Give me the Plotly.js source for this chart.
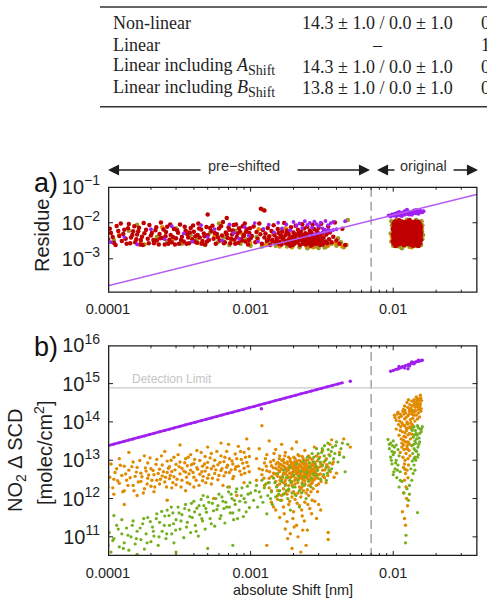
<!DOCTYPE html>
<html>
<head>
<meta charset="utf-8">
<script src="https://cdn.plot.ly/plotly-3.0.1.min.js"></script>
<style>
  html, body { margin: 0; padding: 0; background: #fff; }
  #chart { width: 487px; height: 603px; }
</style>
</head>
<body>
<div id="chart"></div>
<script>
// ---------------------------------------------------------------------------
// Panel a) fit residue versus absolute shift  [shift (nm), residue]
// ---------------------------------------------------------------------------
const resRedPre = [
  [1.0e-4,3.5e-3],[1.05e-4,5.2e-3],[1.1e-4,2.8e-3],[1.15e-4,8.1e-3],[1.2e-4,4.3e-3],[1.25e-4,3.1e-3],
  [1.3e-4,6.4e-3],[1.35e-4,2.6e-3],[1.4e-4,9.2e-3],[1.45e-4,3.9e-3],[1.5e-4,5.8e-3],[1.55e-4,2.9e-3],
  [1.6e-4,4.7e-3],[1.65e-4,7.3e-3],[1.7e-4,3.3e-3],[1.75e-4,2.4e-3],[1.8e-4,5.1e-3],[1.9e-4,3.6e-3],
  [1.95e-4,8.6e-3],[2.0e-4,4.4e-3],[2.1e-4,2.7e-3],[2.15e-4,6.2e-3],[2.2e-4,3.2e-3],[2.3e-4,4.9e-3],
  [2.35e-4,1.01e-2],[2.4e-4,3.8e-3],[2.5e-4,2.5e-3],[2.55e-4,5.5e-3],[2.6e-4,7.8e-3],[2.7e-4,3.4e-3],
  [2.75e-4,4.6e-3],[2.8e-4,2.9e-3],[2.9e-4,6.7e-3],[3.0e-4,3.7e-3],[3.1e-4,5.3e-3],[3.15e-4,2.6e-3],
  [3.2e-4,8.9e-3],[3.3e-4,4.1e-3],[3.4e-4,3.0e-3],[3.5e-4,6.0e-3],[3.6e-4,4.8e-3],[3.7e-4,2.7e-3],
  [3.8e-4,7.1e-3],[3.9e-4,3.5e-3],[4.0e-4,5.6e-3],[4.1e-4,4.2e-3],[4.2e-4,2.8e-3],[4.3e-4,9.5e-3],
  [4.4e-4,3.9e-3],[4.5e-4,6.5e-3],[4.6e-4,3.1e-3],[4.7e-4,5.0e-3],[4.8e-4,2.5e-3],[4.9e-4,7.6e-3],
  [5.0e-4,4.5e-3],[5.1e-4,3.3e-3],[5.3e-4,5.9e-3],[5.4e-4,8.3e-3],[5.5e-4,3.6e-3],[5.7e-4,2.6e-3],
  [5.8e-4,4.9e-3],[6.0e-4,6.9e-3],[6.1e-4,3.2e-3],[6.3e-4,4.4e-3],[6.4e-4,1.05e-2],[6.6e-4,2.9e-3],
  [6.7e-4,5.4e-3],[6.9e-4,3.8e-3],[7.0e-4,7.4e-3],[7.2e-4,2.7e-3],[7.4e-4,4.7e-3],[7.5e-4,6.1e-3],
  [7.7e-4,3.4e-3],[7.9e-4,9.0e-3],[8.0e-4,4.0e-3],[8.2e-4,2.8e-3],[8.4e-4,5.7e-3],[8.6e-4,3.5e-3],
  [8.8e-4,8.0e-3],[9.0e-4,4.6e-3],[9.2e-4,3.0e-3],[9.4e-4,6.6e-3],[9.6e-4,2.5e-3],[9.8e-4,5.2e-3],
  [1.0e-3,3.7e-3],[5.0e-4,1.7e-2],[6.8e-4,1.35e-2],[1.18e-3,2.45e-2],[1.25e-3,2.2e-2],
  [1.03e-4,6.8e-3],[1.08e-4,4.0e-3],[1.13e-4,2.4e-3],[1.18e-4,5.9e-3],[1.23e-4,9.6e-3],[1.28e-4,4.9e-3],
  [1.33e-4,3.6e-3],[1.38e-4,7.0e-3],[1.43e-4,2.7e-3],[1.48e-4,4.6e-3],[1.53e-4,8.0e-3],[1.58e-4,3.5e-3],
  [1.63e-4,5.8e-3],[1.68e-4,2.5e-3],[1.73e-4,4.1e-3],[1.78e-4,9.8e-3],[1.85e-4,6.4e-3],[1.93e-4,2.7e-3],
  [2.03e-4,5.2e-3],[2.08e-4,3.3e-3],[2.18e-4,7.5e-3],[2.27e-4,2.5e-3],[2.33e-4,3.7e-3],[2.45e-4,6.5e-3],
  [2.53e-4,4.2e-3],[2.65e-4,2.6e-3],[2.73e-4,9.0e-3],[2.85e-4,4.0e-3],[2.95e-4,2.5e-3],[3.05e-4,6.2e-3],
  [3.25e-4,3.3e-3],[3.45e-4,7.8e-3],[3.55e-4,2.6e-3],[3.65e-4,3.9e-3],[3.75e-4,5.4e-3],[3.95e-4,8.4e-3],
  [4.05e-4,3.0e-3],[4.25e-4,4.6e-3],[4.35e-4,6.9e-3],[4.55e-4,2.6e-3],[4.75e-4,4.2e-3],[4.95e-4,3.0e-3],
  [5.2e-4,7.2e-3],[5.6e-4,5.2e-3],[5.9e-4,3.9e-3],[6.2e-4,8.0e-3],[6.5e-4,2.7e-3],[6.8e-4,4.8e-3],
  [7.1e-4,6.4e-3],[7.3e-4,3.6e-3],[7.6e-4,8.6e-3],[7.8e-4,2.6e-3],[8.1e-4,5.0e-3],[8.3e-4,7.0e-3],
  [8.7e-4,3.2e-3],[8.9e-4,4.3e-3],[9.1e-4,9.6e-3],[9.3e-4,5.6e-3],[9.7e-4,3.3e-3],[9.9e-4,7.0e-3],
  [1.02e-3,4.3e-3],[1.05e-3,7.9e-3],[1.08e-3,2.9e-3],[1.1e-3,5.5e-3],[1.12e-3,3.6e-3],[1.15e-3,9.6e-3],
  [1.17e-3,4.8e-3],[1.2e-3,2.6e-3],[1.22e-3,6.3e-3],[1.25e-3,3.9e-3],[1.27e-3,5.0e-3],[1.3e-3,3.1e-3],
  [1.32e-3,7.2e-3],[1.35e-3,4.2e-3],[1.37e-3,2.4e-3],[1.4e-3,5.9e-3],[1.42e-3,3.4e-3],[1.45e-3,8.5e-3],
  [1.47e-3,4.6e-3],[1.5e-3,2.8e-3],[1.52e-3,3.8e-3],[1.55e-3,6.7e-3],[1.57e-3,5.2e-3],[1.6e-3,3.0e-3],
  [1.62e-3,4.0e-3],[1.65e-3,2.5e-3],[1.67e-3,5.7e-3],[1.7e-3,3.5e-3],[1.72e-3,9.9e-3],[1.75e-3,4.4e-3],
  [1.77e-3,2.7e-3],[1.8e-3,6.0e-3],[1.82e-3,3.2e-3],[1.85e-3,4.9e-3],[1.87e-3,3.7e-3],[1.9e-3,2.3e-3],
  [1.92e-3,7.5e-3],[1.95e-3,4.1e-3],[1.97e-3,3.0e-3],[2.0e-3,5.4e-3],[2.02e-3,2.6e-3],[2.05e-3,3.9e-3],
  [2.07e-3,8.2e-3],[2.1e-3,4.7e-3],[2.12e-3,2.9e-3],[2.15e-3,6.4e-3],[2.17e-3,3.3e-3],[2.2e-3,4.3e-3],
  [2.22e-3,2.4e-3],[2.25e-3,5.6e-3],[2.27e-3,3.6e-3],[2.3e-3,9.1e-3],[2.32e-3,4.5e-3],[2.35e-3,2.8e-3],
  [2.37e-3,6.9e-3],[2.4e-3,3.4e-3],[2.42e-3,5.1e-3],[2.45e-3,2.5e-3],[2.47e-3,4.0e-3],[2.5e-3,7.7e-3],
  [2.52e-3,3.1e-3],[2.55e-3,4.8e-3],[2.57e-3,2.7e-3],[2.6e-3,6.1e-3],[2.62e-3,3.8e-3],[2.65e-3,2.3e-3],
  [2.67e-3,5.3e-3],[2.7e-3,3.5e-3],[2.72e-3,8.8e-3],[2.75e-3,4.2e-3],[2.77e-3,2.9e-3],[2.8e-3,6.6e-3],
  [2.83e-3,3.2e-3],[2.86e-3,4.6e-3],[2.9e-3,2.6e-3],[2.93e-3,5.8e-3],[2.96e-3,3.7e-3],[3.0e-3,7.3e-3],
  [3.03e-3,2.8e-3],[3.06e-3,4.4e-3],[3.1e-3,3.3e-3],[3.13e-3,9.4e-3],[3.17e-3,5.0e-3],[3.2e-3,2.5e-3],
  [3.25e-3,3.9e-3],[3.3e-3,6.2e-3],[3.35e-3,3.0e-3],[3.4e-3,4.7e-3],[3.45e-3,2.7e-3],[3.5e-3,8.0e-3],
  [3.55e-3,3.5e-3],[3.6e-3,5.4e-3],[3.7e-3,2.9e-3],[3.8e-3,4.1e-3],[3.9e-3,1.02e-2],[4.0e-3,3.2e-3],
  [4.2e-3,2.6e-3],[4.4e-3,6.8e-3],[4.6e-3,2.4e-3],
  [1.53e-3,3.3e-3],[1.63e-3,4.5e-3],[1.73e-3,3.1e-3],[1.83e-3,2.6e-3],[1.93e-3,3.5e-3],[2.03e-3,4.4e-3],
  [2.13e-3,3.0e-3],[2.23e-3,3.8e-3],[2.33e-3,2.6e-3],[2.43e-3,3.6e-3],[2.53e-3,4.3e-3],[2.63e-3,3.0e-3],
  [2.73e-3,2.5e-3],[2.85e-3,3.9e-3],[2.95e-3,3.1e-3],[1.58e-3,2.6e-3],[1.68e-3,3.7e-3],[1.78e-3,5.0e-3],
  [1.88e-3,2.9e-3],[1.98e-3,2.4e-3],[2.08e-3,3.3e-3],[2.18e-3,5.2e-3],[2.28e-3,3.2e-3],[2.38e-3,4.2e-3],
  [2.48e-3,2.9e-3],[2.58e-3,3.4e-3],[2.68e-3,4.5e-3],[2.78e-3,3.6e-3],[2.88e-3,2.8e-3],[2.98e-3,4.9e-3],
  [3.08e-3,2.4e-3],[3.18e-3,3.6e-3],[3.28e-3,2.8e-3],[1.43e-3,3.0e-3],[1.33e-3,3.5e-3]
];
const resOlivePre = [
  [1.1e-4,3.3e-3],[1.4e-4,6.0e-3],[1.8e-4,2.5e-3],[2.2e-4,4.0e-3],[2.6e-4,3.0e-3],[3.0e-4,7.0e-3],
  [3.3e-4,2.6e-3],[3.8e-4,4.5e-3],[4.2e-4,3.4e-3],[4.8e-4,2.4e-3],[5.2e-4,5.3e-3],[5.9e-4,2.9e-3],
  [6.5e-4,3.9e-3],[7.1e-4,2.4e-3],[7.8e-4,6.0e-3],[8.5e-4,2.6e-3],[9.3e-4,3.5e-3],[1.0e-3,2.3e-3],
  [1.1e-3,4.0e-3],[1.2e-3,2.2e-3],[1.35e-3,3.0e-3],[1.5e-3,2.3e-3],[1.65e-3,6.2e-3],[1.8e-3,2.2e-3],
  [2.0e-3,2.5e-3],[2.2e-3,2.1e-3],[2.4e-3,3.1e-3],[2.6e-3,2.2e-3],[2.8e-3,2.4e-3],[3.0e-3,2.0e-3],
  [3.2e-3,3.0e-3],[3.4e-3,2.2e-3],[3.7e-3,2.6e-3],[4.0e-3,2.3e-3],[4.3e-3,2.9e-3],[4.7e-3,2.4e-3],
  [3.3e-3,2.05e-3],[2.5e-3,1.95e-3],[2.9e-3,2.2e-3],[6.0e-4,9.5e-3],[1.6e-4,8.8e-3],[4.1e-3,3.7e-3],
  [4.5e-3,2.1e-3],[4.8e-3,1.2e-2]
];
const resOrangePre = [
  [1.2e-4,4.6e-3],[1.7e-4,3.0e-3],[2.4e-4,7.5e-3],[2.9e-4,3.6e-3],[3.6e-4,5.5e-3],[4.4e-4,2.7e-3],
  [5.6e-4,4.2e-3],[6.2e-4,8.4e-3],[7.3e-4,3.3e-3],[8.7e-4,5.0e-3],[9.9e-4,2.8e-3],[1.14e-3,6.6e-3],
  [1.28e-3,2.5e-3],[1.44e-3,4.8e-3],[1.6e-3,2.2e-3],[1.76e-3,7.0e-3],[1.95e-3,2.1e-3],[2.15e-3,2.7e-3],
  [2.45e-3,2.3e-3],[2.75e-3,2.1e-3],[3.05e-3,2.5e-3],[3.5e-3,2.35e-3],[3.95e-3,2.7e-3],[4.4e-3,2.2e-3],
  [1.22e-3,2.3e-2]
];
const resPurplePre = [
  [1.05e-4,2.9e-3],[1.3e-4,4.0e-3],[1.6e-4,2.5e-3],[2.0e-4,6.6e-3],[2.5e-4,3.5e-3],[2.8e-4,8.0e-3],
  [3.4e-4,5.1e-3],[3.9e-4,3.0e-3],[4.5e-4,8.6e-3],[5.0e-4,4.0e-3],[5.6e-4,6.7e-3],[6.3e-4,3.2e-3],
  [7.1e-4,9.0e-3],[7.6e-4,5.2e-3],[8.3e-4,3.6e-3],[9.1e-4,7.6e-3],[9.7e-4,4.4e-3],[1.07e-3,9.8e-3],
  [1.13e-3,3.0e-3],[1.23e-3,6.8e-3],[1.34e-3,8.8e-3],[1.46e-3,5.4e-3],[1.56e-3,1.0e-2],[1.66e-3,7.0e-3],
  [1.78e-3,9.0e-3],[1.9e-3,6.2e-3],[2.0e-3,1.05e-2],[2.1e-3,8.4e-3],[2.2e-3,9.6e-3],[2.3e-3,7.1e-3],
  [2.4e-3,1.1e-2],[2.5e-3,8.7e-3],[2.6e-3,9.9e-3],[2.7e-3,7.4e-3],[2.8e-3,1.08e-2],[2.9e-3,9.2e-3],
  [3.0e-3,8.0e-3],[3.1e-3,1.0e-2],[3.2e-3,7.0e-3],[3.35e-3,1.12e-2],[3.5e-3,8.6e-3],[3.65e-3,9.8e-3],
  [3.8e-3,1.06e-2],[2.6e-3,4.4e-3],[2.8e-3,4.8e-3],[3.0e-3,5.1e-3],[3.2e-3,5.4e-3],[3.4e-3,5.7e-3],
  [3.6e-3,6.0e-3],[3.8e-3,6.3e-3],[4.0e-3,6.6e-3],[3.3e-3,6.2e-3],[3.5e-3,6.5e-3],[4.6e-3,1.1e-2]
];
const resPurpleOrig = [
  [9.3e-3,1.6e-2],[9.6e-3,1.5e-2],[9.8e-3,1.7e-2],[1.0e-2,1.58e-2],[1.02e-2,1.75e-2],[1.04e-2,1.62e-2],
  [1.06e-2,1.85e-2],[1.08e-2,1.68e-2],[1.1e-2,1.78e-2],[1.12e-2,1.6e-2],[1.14e-2,1.9e-2],[1.16e-2,1.72e-2],
  [1.18e-2,1.83e-2],[1.2e-2,1.68e-2],[1.22e-2,1.95e-2],[1.24e-2,1.78e-2],[1.26e-2,1.88e-2],[1.28e-2,1.72e-2],
  [1.3e-2,2.0e-2],[1.32e-2,1.82e-2],[1.34e-2,1.93e-2],[1.36e-2,1.78e-2],[1.38e-2,2.05e-2],[1.4e-2,1.87e-2],
  [1.42e-2,1.98e-2],[1.44e-2,1.84e-2],[1.46e-2,2.1e-2],[1.48e-2,1.92e-2],[1.5e-2,2.02e-2],[1.52e-2,1.88e-2],
  [1.54e-2,2.15e-2],[1.56e-2,1.98e-2],[1.58e-2,2.06e-2],[1.6e-2,1.95e-2],[1.63e-2,2.1e-2],[1.25e-2,2.3e-2],
  [1.1e-2,2.0e-2],[1.35e-2,1.68e-2],[1.45e-2,2.25e-2],[1.05e-2,1.52e-2],[1.2e-2,2.1e-2],[1.3e-2,1.7e-2],
  [1.4e-2,2.2e-2],[1.15e-2,1.55e-2],[1.5e-2,1.78e-2]
];
const resRedOrig = [
  [1.01e-2,2.7e-3],[1.07e-2,2.5e-3],[1.13e-2,2.65e-3],[1.19e-2,2.45e-3],[1.26e-2,2.6e-3],[1.33e-2,2.5e-3],[1.41e-2,2.7e-3],[1.47e-2,2.55e-3],[1.54e-2,2.75e-3],
  [1.0e-2,3.1e-3],[1.05e-2,2.95e-3],[1.12e-2,3.05e-3],[1.17e-2,2.9e-3],[1.24e-2,3.1e-3],[1.31e-2,2.95e-3],[1.39e-2,3.0e-3],[1.46e-2,3.1e-3],[1.53e-2,2.9e-3],
  [1.02e-2,3.55e-3],[1.08e-2,3.4e-3],[1.14e-2,3.6e-3],[1.2e-2,3.45e-3],[1.27e-2,3.5e-3],[1.34e-2,3.6e-3],[1.42e-2,3.4e-3],[1.49e-2,3.55e-3],[1.56e-2,3.45e-3],
  [1.01e-2,4.0e-3],[1.06e-2,4.1e-3],[1.13e-2,3.95e-3],[1.19e-2,4.05e-3],[1.25e-2,3.9e-3],[1.32e-2,4.1e-3],[1.4e-2,4.0e-3],[1.47e-2,3.9e-3],[1.54e-2,4.1e-3],
  [1.0e-2,4.7e-3],[1.07e-2,4.55e-3],[1.12e-2,4.65e-3],[1.18e-2,4.5e-3],[1.26e-2,4.7e-3],[1.33e-2,4.55e-3],[1.41e-2,4.6e-3],[1.48e-2,4.7e-3],[1.55e-2,4.5e-3],
  [1.02e-2,5.2e-3],[1.08e-2,5.4e-3],[1.14e-2,5.25e-3],[1.21e-2,5.35e-3],[1.27e-2,5.2e-3],[1.34e-2,5.4e-3],[1.42e-2,5.3e-3],[1.49e-2,5.2e-3],[1.56e-2,5.4e-3],
  [1.01e-2,6.2e-3],[1.06e-2,6.0e-3],[1.13e-2,6.15e-3],[1.19e-2,6.05e-3],[1.25e-2,6.2e-3],[1.32e-2,6.0e-3],[1.4e-2,6.1e-3],[1.47e-2,6.25e-3],[1.54e-2,6.0e-3],
  [1.0e-2,6.9e-3],[1.07e-2,7.1e-3],[1.12e-2,6.95e-3],[1.18e-2,7.05e-3],[1.26e-2,6.9e-3],[1.33e-2,7.1e-3],[1.41e-2,7.0e-3],[1.48e-2,6.9e-3],[1.55e-2,7.1e-3],
  [1.02e-2,8.1e-3],[1.08e-2,7.9e-3],[1.14e-2,8.05e-3],[1.2e-2,7.95e-3],[1.27e-2,8.1e-3],[1.34e-2,7.9e-3],[1.42e-2,8.0e-3],[1.49e-2,8.1e-3],[1.55e-2,7.9e-3],
  [1.01e-2,9.3e-3],[1.06e-2,9.1e-3],[1.13e-2,9.25e-3],[1.19e-2,9.15e-3],[1.25e-2,9.3e-3],[1.32e-2,9.1e-3],[1.4e-2,9.2e-3],[1.47e-2,9.3e-3],[1.53e-2,9.1e-3],
  [1.03e-2,1.06e-2],[1.09e-2,1.04e-2],[1.15e-2,1.07e-2],[1.22e-2,1.03e-2],[1.29e-2,1.06e-2],[1.36e-2,1.04e-2],[1.43e-2,1.07e-2],[1.5e-2,1.05e-2],
  [1.1e-2,1.15e-2],[1.3e-2,1.18e-2],[1.04e-2,2.3e-3],[1.38e-2,2.35e-3],[1.5e-2,2.3e-3]
];
const resOliveOrig = [
  [9.7e-3,3.0e-3],[9.6e-3,5.0e-3],[9.8e-3,8.5e-3],[9.7e-3,1.1e-2],[1.0e-2,2.3e-3],[1.1e-2,2.2e-3],
  [1.2e-2,2.3e-3],[1.3e-2,2.15e-3],[1.45e-2,2.25e-3],[1.57e-2,2.4e-3],[1.6e-2,3.5e-3],[1.59e-2,5.8e-3],
  [1.6e-2,8.5e-3],[1.58e-2,1.1e-2],[1.05e-2,1.2e-2],[1.25e-2,1.22e-2],[1.45e-2,1.2e-2],[9.9e-3,6.5e-3],
  [1.62e-2,4.6e-3],[1.15e-2,1.95e-3]
];
const resOrangeOrig = [[9.8e-3,4.0e-3],[1.59e-2,7.0e-3],[1.35e-2,2.1e-3],[1.08e-2,1.18e-2]];
// straight reference line drawn across panel a (end points)
const resLineShift = [1.0e-4, 3.9e-2];
const resLineValue = [1.8e-4, 6.2e-2];

// ---------------------------------------------------------------------------
// Panel b) NO2 delta SCD versus absolute shift  [shift (nm), molec/cm^2]
// ---------------------------------------------------------------------------
const scdPurplePre = [
  [1.0e-4,2.4e13],[1.1e-4,2.64e13],[1.2e-4,2.88e13],[1.3e-4,3.12e13],[1.4e-4,3.36e13],[1.5e-4,3.6e13],
  [1.65e-4,3.96e13],[1.8e-4,4.32e13],[1.95e-4,4.68e13],[2.1e-4,5.04e13],[2.3e-4,5.52e13],[2.5e-4,6.0e13],
  [2.7e-4,6.48e13],[2.9e-4,6.96e13],[3.2e-4,7.68e13],[3.5e-4,8.4e13],[3.8e-4,9.12e13],[4.1e-4,9.84e13],
  [4.5e-4,1.08e14],[4.9e-4,1.18e14],[5.3e-4,1.27e14],[5.8e-4,1.39e14],[6.3e-4,1.51e14],[6.9e-4,1.66e14],
  [7.5e-4,1.8e14],[8.2e-4,1.97e14],[8.9e-4,2.14e14],[9.7e-4,2.33e14],[1.06e-3,2.54e14],[1.15e-3,2.76e14],
  [1.25e-3,3.0e14],[1.36e-3,3.26e14],[1.48e-3,3.55e14],[1.61e-3,3.86e14],[1.75e-3,4.2e14],[1.9e-3,4.56e14],
  [2.07e-3,4.97e14],[2.25e-3,5.4e14],[2.45e-3,5.88e14],[2.67e-3,6.41e14],[2.9e-3,6.96e14],[3.15e-3,7.56e14],
  [3.45e-3,8.28e14],[3.75e-3,9.0e14],[4.1e-3,9.84e14],[4.4e-3,1.06e15]
];
const scdPurpleStray = [[1.19e-3,2.2e14],[5.0e-3,1.15e15]];
const scdPurpleOrig = [
  [9.6e-3,2.1e15],[1.0e-2,2.2e15],[1.04e-2,2.35e15],[1.08e-2,2.4e15],[1.1e-2,2.55e15],[1.13e-2,2.6e15],
  [1.16e-2,2.75e15],[1.19e-2,2.8e15],[1.22e-2,2.95e15],[1.25e-2,3.0e15],[1.28e-2,3.15e15],[1.31e-2,3.2e15],
  [1.34e-2,3.35e15],[1.37e-2,3.4e15],[1.4e-2,3.55e15],[1.43e-2,3.6e15],[1.46e-2,3.75e15],[1.5e-2,3.8e15],
  [1.54e-2,3.95e15],[1.58e-2,4.0e15],[1.6e-2,4.1e15],[1.2e-2,2.55e15],[1.3e-2,2.9e15],[1.4e-2,3.3e15],
  [1.1e-2,2.8e15],[1.27e-2,2.45e15],[1.5e-2,4.1e15],[1.35e-2,3.7e15]
];
const scdOrangePre = [
  [1.0e-4,2.0e12],[1.0e-4,5.0e12],[1.05e-4,8.0e12],[1.1e-4,1.3e12],[1.1e-4,3.2e12],[1.15e-4,6.0e12],
  [1.2e-4,2.5e12],[1.2e-4,1.1e13],[1.25e-4,4.0e12],[1.3e-4,1.6e12],[1.3e-4,7.0e12],[1.35e-4,3.0e12],
  [1.4e-4,5.5e12],[1.4e-4,1.6e13],[1.5e-4,2.2e12],[1.5e-4,9.0e12],[1.55e-4,3.8e12],[1.6e-4,1.2e12],
  [1.6e-4,6.5e12],[1.7e-4,2.8e12],[1.7e-4,4.6e12],[1.8e-4,1.3e13],[1.8e-4,1.8e12],[1.85e-4,5.2e12],
  [1.9e-4,3.4e12],[1.9e-4,8.5e12],[2.0e-4,2.1e12],[2.0e-4,6.0e12],[2.1e-4,4.2e12],[2.1e-4,1.5e12],
  [2.2e-4,1.05e13],[2.2e-4,3.0e12],[2.3e-4,5.8e12],[2.3e-4,2.4e12],[2.4e-4,7.5e12],[2.4e-4,3.9e12],
  [2.5e-4,1.7e13],[2.5e-4,2.7e12],[2.6e-4,4.8e12],[2.6e-4,9.5e12],[2.7e-4,3.3e12],[2.7e-4,6.8e12],
  [2.8e-4,1.9e12],[2.8e-4,5.1e12],[2.9e-4,1.2e13],[2.9e-4,3.7e12],[3.0e-4,7.8e12],[3.0e-4,2.3e12],
  [3.2e-4,4.4e12],[3.2e-4,9.0e12],[3.2e-4,2.5e13],[3.3e-4,6.2e12],[3.3e-4,3.0e12],[3.5e-4,1.1e13],
  [3.5e-4,4.9e12],[3.5e-4,1.6e12],[3.6e-4,7.2e12],[3.6e-4,2.6e12],[3.8e-4,5.5e12],[3.8e-4,1.4e13],
  [4.0e-4,3.6e12],[4.0e-4,8.2e12],[4.0e-4,2.0e12],[4.2e-4,6.4e12],[4.2e-4,1.8e13],[4.4e-4,4.3e12],
  [4.4e-4,9.8e12],[4.6e-4,2.9e12],[4.6e-4,7.0e12],[4.8e-4,1.25e13],[4.8e-4,5.2e12],[5.0e-4,3.4e12],
  [5.0e-4,8.8e12],[5.0e-4,2.2e13],[5.3e-4,6.0e12],[5.3e-4,1.5e13],[5.3e-4,2.4e12],[5.6e-4,4.5e12],
  [5.6e-4,1.0e13],[5.9e-4,7.6e12],[5.9e-4,3.1e12],[6.2e-4,1.3e13],[6.2e-4,5.4e12],[6.2e-4,2.8e13],
  [6.5e-4,3.9e12],[6.5e-4,9.2e12],[6.8e-4,6.6e12],[6.8e-4,1.7e13],[7.1e-4,4.8e12],[7.1e-4,1.1e13],
  [7.1e-4,2.0e12],[7.5e-4,8.0e12],[7.5e-4,3.3e12],[7.8e-4,1.45e13],[7.8e-4,5.8e12],[8.2e-4,2.3e13],
  [8.2e-4,7.0e12],[8.6e-4,4.2e12],[8.6e-4,1.05e13],[9.0e-4,6.2e12],[9.0e-4,1.6e13],[9.0e-4,2.6e12],
  [9.4e-4,8.8e12],[9.4e-4,3.6e13],[9.8e-4,5.0e12],[9.8e-4,1.25e13],
  [1.3e-4,7.0e11],[2.6e-4,9.0e11],[5.5e-4,1.0e12],[8.0e-4,1.2e12],
  [1.03e-4,3.6e12],[1.08e-4,1.9e12],[1.12e-4,4.8e12],[1.17e-4,2.9e12],[1.22e-4,7.4e12],[1.27e-4,1.5e12],
  [1.33e-4,4.4e12],[1.38e-4,2.2e12],[1.43e-4,3.5e12],[1.47e-4,6.8e12],[1.52e-4,1.6e12],[1.58e-4,4.9e12],
  [1.63e-4,2.7e12],[1.67e-4,9.8e12],[1.73e-4,3.7e12],[1.77e-4,1.4e12],[1.83e-4,6.3e12],[1.88e-4,2.4e12],
  [1.93e-4,4.1e12],[1.97e-4,1.15e13],[2.03e-4,3.0e12],[2.07e-4,5.4e12],[2.13e-4,2.0e12],[2.17e-4,7.8e12],
  [2.25e-4,4.5e12],[2.33e-4,3.2e12],[2.37e-4,1.3e13],[2.45e-4,5.0e12],[2.53e-4,3.6e12],[2.57e-4,2.0e12],
  [2.65e-4,6.2e12],[2.73e-4,4.0e12],[2.77e-4,1.0e13],[2.85e-4,2.6e12],[2.95e-4,5.6e12],[3.05e-4,3.2e12],
  [3.1e-4,1.4e13],[3.15e-4,6.8e12],[3.25e-4,2.0e12],[3.4e-4,5.2e12],[3.45e-4,8.6e12],[3.55e-4,3.6e12],
  [3.65e-4,1.2e13],[3.7e-4,4.4e12],[3.75e-4,2.4e12],[3.85e-4,7.6e12],[3.95e-4,4.8e12],[4.05e-4,1.05e13],
  [4.15e-4,3.0e12],[4.25e-4,5.8e12],[4.35e-4,2.2e12],[4.5e-4,1.6e13],[4.55e-4,5.0e12],[4.65e-4,3.8e12],
  [4.75e-4,8.0e12],[4.85e-4,2.6e12],[4.95e-4,6.4e12],[5.1e-4,4.2e12],[5.2e-4,1.15e13],[5.4e-4,3.4e12],
  [5.5e-4,7.0e12],[5.7e-4,5.6e12],[5.8e-4,1.7e13],[6.0e-4,4.0e12],[6.1e-4,8.8e12],[6.3e-4,6.0e12],
  [6.4e-4,2.2e12],[6.6e-4,1.2e13],[6.7e-4,4.8e12],[6.9e-4,7.4e12],[7.0e-4,2.6e13],[7.3e-4,5.6e12],
  [7.4e-4,9.6e12],[7.6e-4,3.8e12],[7.9e-4,6.8e12],[8.0e-4,1.1e13],[8.4e-4,5.2e12],[8.5e-4,1.7e13],
  [8.8e-4,8.4e12],[9.1e-4,4.6e12],[9.2e-4,1.2e13],[9.6e-4,7.0e12],[9.7e-4,2.0e13],
  [1.1e-3,3.0e12],[1.1e-3,1.1e13],[1.15e-3,6.0e12],[1.15e-3,2.0e13],[1.2e-3,4.2e12],[1.2e-3,8.0e13],
  [1.25e-3,8.5e12],[1.25e-3,2.2e12],[1.3e-3,5.3e12],[1.3e-3,1.4e13],[1.35e-3,3.4e12],[1.35e-3,3.2e13],
  [1.4e-3,7.2e12],[1.4e-3,1.6e12],[1.45e-3,1.0e13],[1.45e-3,4.6e12],[1.5e-3,2.8e12],[1.5e-3,1.9e13],
  [1.5e-3,6.2e12],[1.55e-3,8.8e12],[1.55e-3,3.8e12],[1.55e-3,1.2e12],[1.6e-3,5.1e12],[1.6e-3,1.3e13],
  [1.6e-3,2.4e12],[1.65e-3,7.5e12],[1.65e-3,3.2e12],[1.65e-3,2.6e13],[1.7e-3,4.5e12],[1.7e-3,1.05e13],
  [1.7e-3,1.8e12],[1.75e-3,6.4e12],[1.75e-3,2.9e12],[1.75e-3,1.6e13],[1.8e-3,8.2e12],[1.8e-3,4.0e12],
  [1.8e-3,1.3e12],[1.85e-3,5.6e12],[1.85e-3,1.2e13],[1.85e-3,2.2e12],[1.9e-3,3.5e12],[1.9e-3,9.4e12],
  [1.9e-3,6.8e12],[1.95e-3,4.8e12],[1.95e-3,2.0e13],[1.95e-3,2.7e12],[2.0e-3,7.8e12],[2.0e-3,3.8e12],
  [2.0e-3,1.5e12],[2.05e-3,5.8e12],[2.05e-3,1.1e13],[2.05e-3,2.4e12],[2.1e-3,4.3e12],[2.1e-3,8.6e12],
  [2.1e-3,3.0e13],[2.15e-3,6.6e12],[2.15e-3,3.2e12],[2.15e-3,1.4e13],[2.2e-3,5.0e12],[2.2e-3,2.0e12],
  [2.2e-3,9.8e12],[2.25e-3,7.2e12],[2.25e-3,3.6e12],[2.25e-3,1.1e12],[2.3e-3,5.4e12],[2.3e-3,1.25e13],
  [2.3e-3,2.6e12],[2.35e-3,4.0e12],[2.35e-3,8.0e12],[2.4e-3,6.0e12],[2.4e-3,1.8e13],[2.4e-3,2.9e12],
  [2.45e-3,4.6e12],[2.45e-3,1.0e13],[2.5e-3,3.4e12],[2.5e-3,7.0e12],[2.5e-3,1.7e12],[2.55e-3,5.2e12],
  [2.55e-3,1.3e13],[2.6e-3,3.9e12],[2.6e-3,8.4e12],[2.65e-3,2.4e12],[2.65e-3,6.0e12],[2.7e-3,4.4e12],
  [2.7e-3,1.05e13],[2.75e-3,3.0e12],[2.75e-3,7.4e12],[2.8e-3,5.2e12],[2.8e-3,2.2e13],[2.85e-3,3.6e12],
  [2.9e-3,6.2e12],[2.9e-3,1.3e13],[3.0e-3,4.2e12],[3.0e-3,2.4e12],[3.1e-3,8.0e12],[3.2e-3,5.5e12],
  [3.2e-3,1.8e13],[3.3e-3,3.5e12],[3.4e-3,1.1e13],[3.5e-3,6.6e12],[3.6e-3,2.6e13],[3.8e-3,9.0e12],
  [4.0e-3,4.6e12],[4.2e-3,1.6e13],[4.5e-3,3.6e13],[5.0e-3,2.2e13],[3.7e-3,3.4e13],
  [1.52e-3,4.4e12],[1.58e-3,6.8e12],[1.62e-3,3.6e12],[1.68e-3,5.6e12],[1.72e-3,8.6e12],[1.78e-3,3.4e12],
  [1.82e-3,6.2e12],[1.88e-3,4.6e12],[1.92e-3,2.8e12],[1.98e-3,6.0e12],[2.02e-3,9.0e12],[2.08e-3,3.4e12],
  [2.12e-3,5.6e12],[2.18e-3,7.8e12],[2.22e-3,4.0e12],[2.28e-3,6.4e12],[2.32e-3,3.2e12],[2.38e-3,4.8e12],
  [2.42e-3,8.2e12],[2.48e-3,5.8e12],[2.52e-3,4.2e12],[2.58e-3,6.8e12],[2.62e-3,3.0e12],[2.68e-3,5.2e12],
  [2.72e-3,7.8e12],[2.78e-3,4.0e12],[2.82e-3,6.6e12],[1.6e-3,8.0e12],[1.7e-3,2.6e12],[1.8e-3,5.2e12],
  [1.9e-3,7.4e12],[2.0e-3,5.0e12],[2.1e-3,6.2e12],[2.2e-3,3.4e12],[2.3e-3,8.6e12],[2.4e-3,4.2e12],
  [2.5e-3,5.4e12],[2.6e-3,5.0e12],[1.75e-3,4.6e12],[1.95e-3,3.8e12],[2.15e-3,4.6e12],[2.35e-3,6.0e12],
  [2.55e-3,3.2e12],[2.75e-3,5.6e12],
  [1.21e-3,5.6e12],[1.24e-3,3.4e12],[1.27e-3,1.1e13],[1.29e-3,7.0e12],[1.33e-3,2.6e12],[1.36e-3,5.0e12],
  [1.38e-3,9.0e12],[1.41e-3,3.8e12],[1.44e-3,6.4e12],[1.46e-3,1.5e13],[1.48e-3,4.4e12],[1.51e-3,8.0e12],
  [1.54e-3,2.2e12],[1.56e-3,5.6e12],[1.59e-3,1.1e13],[1.61e-3,3.0e12],[1.64e-3,6.0e12],[1.66e-3,9.8e12],
  [1.69e-3,4.2e12],[1.71e-3,7.0e12],[1.74e-3,1.3e13],[1.76e-3,2.4e12],[1.79e-3,5.8e12],[1.81e-3,9.0e12],
  [1.84e-3,3.6e12],[1.86e-3,7.2e12],[1.89e-3,1.1e13],[1.91e-3,4.4e12],[1.94e-3,8.4e12],[1.96e-3,2.2e12],
  [1.99e-3,6.6e12],[2.01e-3,1.2e13],[2.04e-3,3.0e12],[2.06e-3,7.0e12],[2.09e-3,5.0e12],[2.11e-3,9.6e12],
  [2.14e-3,2.6e12],[2.16e-3,5.8e12],[2.19e-3,1.3e13],[2.21e-3,7.2e12],[2.24e-3,4.4e12],[2.26e-3,9.0e12],
  [2.29e-3,2.0e12],[2.31e-3,5.0e12],[2.34e-3,1.1e13],[2.36e-3,3.6e12],[2.39e-3,6.8e12],[2.41e-3,2.4e12],
  [2.44e-3,5.4e12],[2.46e-3,8.0e12],[2.49e-3,4.0e12],[2.51e-3,1.0e13],[2.54e-3,6.2e12],[2.56e-3,2.2e12],
  [2.59e-3,4.6e12],[2.61e-3,1.15e13],[2.64e-3,7.0e12],[2.66e-3,3.4e12],[2.69e-3,5.8e12],[2.71e-3,2.6e12],
  [2.74e-3,9.0e12],[2.76e-3,4.8e12],[2.79e-3,6.2e12],[2.81e-3,3.2e12],[2.84e-3,8.0e12],[2.87e-3,4.6e12],
  [2.89e-3,2.2e12],[2.92e-3,5.4e12],[2.94e-3,9.6e12],[2.97e-3,3.4e12],[3.02e-3,6.6e12],[3.05e-3,1.2e13],
  [3.08e-3,4.4e12],[3.12e-3,2.8e12],[3.15e-3,7.0e12],[3.22e-3,3.8e12],[3.27e-3,9.0e12],[3.32e-3,5.6e12],
  [3.38e-3,2.6e12],[3.42e-3,7.6e12],[3.48e-3,4.0e12],[3.55e-3,1.4e13],[3.62e-3,5.0e12],[3.75e-3,8.0e12],
  [3.85e-3,3.6e12],[1.35e-3,1.9e12],[1.55e-3,1.6e12],[1.75e-3,1.4e12],[1.95e-3,1.1e12],[2.15e-3,1.4e12],
  [2.35e-3,1.6e12],[2.55e-3,1.2e12],[2.75e-3,1.8e12],[2.95e-3,1.5e12],[1.65e-3,1.2e12],[1.85e-3,1.6e12],
  [2.05e-3,1.3e12],[2.25e-3,1.8e12],[2.45e-3,1.4e12],[2.65e-3,1.5e12],
  [1.4e-3,8.0e11],[1.5e-3,5.0e11],[1.6e-3,3.2e11],[1.65e-3,9.0e11],[1.7e-3,6.0e11],[1.8e-3,2.5e11],
  [1.85e-3,7.0e11],[1.9e-3,1.2e11],[2.0e-3,4.5e11],[2.05e-3,9.5e11],[2.1e-3,2.0e11],[2.2e-3,6.5e11],
  [2.3e-3,3.5e11],[2.4e-3,8.0e11],[2.5e-3,1.5e11],[2.6e-3,5.5e11],[2.7e-3,9.0e11],[2.9e-3,3.0e11],
  [3.0e-3,7.0e11],[1.75e-3,1.6e11],[2.15e-3,1.0e11],[2.45e-3,6.0e10],[1.95e-3,5.0e10],[3.5e-3,1.3e11],
  [1.3e-3,6.0e10],[2.25e-3,4.0e10],[3.5e-3,8.5e10],
  [1.45e-3,6.0e11],[1.55e-3,9.5e11],[1.72e-3,4.0e11],[1.88e-3,8.5e11],[1.98e-3,3.0e11],[2.12e-3,7.5e11],
  [2.28e-3,5.0e11],[2.38e-3,2.6e11],[2.52e-3,7.0e11],[2.68e-3,4.0e11],[2.82e-3,8.5e11],[3.1e-3,5.0e11],
  [2.02e-3,1.8e11],[2.32e-3,1.5e11],[1.82e-3,9.0e10]
];
const scdGreenPre = [
  [1.0e-4,6.0e10],[1.02e-4,1.3e11],[1.05e-4,4.0e10],[1.1e-4,9.0e10],[1.15e-4,2.0e11],[1.2e-4,5.5e10],
  [1.25e-4,1.2e11],[1.3e-4,7.0e10],[1.35e-4,1.7e11],[1.4e-4,4.5e10],[1.45e-4,1.0e11],[1.5e-4,2.6e11],
  [1.55e-4,6.5e10],[1.6e-4,1.4e11],[1.7e-4,8.5e10],[1.75e-4,2.2e11],[1.8e-4,4.8e10],[1.85e-4,1.2e11],
  [1.9e-4,3.2e11],[2.0e-4,7.5e10],[2.05e-4,1.8e11],[2.1e-4,1.05e11],[2.2e-4,4.0e11],[2.25e-4,6.0e10],
  [2.3e-4,2.4e11],[2.4e-4,1.4e11],[2.5e-4,3.5e11],[2.55e-4,9.0e10],[2.6e-4,5.0e11],[2.7e-4,2.0e11],
  [2.8e-4,1.2e11],[2.85e-4,4.2e11],[2.9e-4,7.0e10],[3.0e-4,2.8e11],[3.1e-4,6.0e11],[3.2e-4,1.6e11],
  [3.3e-4,3.8e11],[3.4e-4,9.5e10],[3.5e-4,7.0e11],[3.6e-4,2.4e11],[3.7e-4,5.0e11],[3.8e-4,1.3e11],
  [3.9e-4,3.2e11],[4.0e-4,8.5e11],[4.1e-4,2.0e11],[4.2e-4,5.6e11],[4.3e-4,1.05e11],[4.4e-4,3.8e11],
  [4.5e-4,9.5e11],[4.6e-4,2.6e11],[4.7e-4,6.5e11],[4.8e-4,1.6e11],[4.9e-4,4.4e11],[5.0e-4,1.1e12],
  [5.2e-4,3.0e11],[5.4e-4,7.5e11],[5.6e-4,1.9e11],[5.8e-4,5.2e11],[6.0e-4,1.3e12],[6.2e-4,3.6e11],
  [6.4e-4,8.5e11],[6.6e-4,2.3e11],[6.8e-4,6.0e11],[7.0e-4,1.5e12],[7.2e-4,4.2e11],[7.4e-4,1.0e12],
  [7.6e-4,2.8e11],[7.8e-4,7.0e11],[8.0e-4,1.8e12],[8.3e-4,5.0e11],[8.6e-4,1.2e12],[8.9e-4,3.4e11],
  [9.2e-4,8.0e11],[9.5e-4,2.1e12],[9.8e-4,5.8e11],[1.0e-3,1.4e12],
  [1.6e-4,3.5e10],[3.0e-4,4.0e10],[5.0e-4,5.0e10],[7.5e-4,6.0e10],[1.1e-4,3.6e11],[1.25e-4,2.8e11],
  [1.08e-4,8.0e10],[1.18e-4,1.6e11],[1.28e-4,5.0e10],[1.38e-4,1.1e11],[1.48e-4,2.0e11],[1.58e-4,9.0e10],
  [1.68e-4,1.7e11],[1.78e-4,3.0e11],[1.88e-4,7.0e10],[1.98e-4,2.5e11],[2.08e-4,1.4e11],[2.18e-4,3.0e11],
  [2.28e-4,1.0e11],[2.38e-4,4.6e11],[2.48e-4,2.0e11],[2.58e-4,1.2e11],[2.68e-4,3.6e11],[2.78e-4,6.0e11],
  [2.88e-4,2.2e11],[2.98e-4,1.5e11],[3.15e-4,4.2e11],[3.25e-4,2.6e11],[3.45e-4,5.5e11],[3.55e-4,1.8e11],
  [3.75e-4,3.4e11],[3.85e-4,7.5e11],[4.05e-4,4.5e11],[4.15e-4,1.4e11],[4.35e-4,6.5e11],[4.55e-4,3.0e11],
  [4.65e-4,1.2e12],[4.85e-4,5.5e11],[5.1e-4,8.0e11],[5.3e-4,2.2e11],[5.5e-4,4.8e11],[5.7e-4,1.0e12],
  [5.9e-4,6.5e11],[6.1e-4,3.0e11],[6.3e-4,1.1e12],[6.5e-4,5.5e11],[6.7e-4,8.0e11],[6.9e-4,2.0e12],
  [7.1e-4,6.0e11],[7.3e-4,1.3e12],[7.5e-4,4.2e11],[7.7e-4,9.0e11],[7.9e-4,1.5e12],[8.1e-4,3.0e11],
  [8.4e-4,8.5e11],[8.7e-4,1.9e12],[9.0e-4,1.0e12],[9.3e-4,4.5e11],[9.6e-4,1.3e12],[9.9e-4,2.6e12],
  [1.05e-3,9.0e11],[1.1e-3,2.2e12],[1.12e-3,6.0e11],[1.15e-3,1.5e12],[1.2e-3,3.0e12],[1.22e-3,8.0e11],
  [1.25e-3,1.9e12],[1.3e-3,4.0e11],[1.32e-3,1.2e12],[1.35e-3,2.6e12],[1.4e-3,1.5e12],[1.42e-3,7.0e11],
  [1.45e-3,3.4e12],[1.5e-3,1.1e12],[1.52e-3,2.0e12],[1.55e-3,4.5e12],[1.6e-3,1.6e12],[1.62e-3,9.0e11],
  [1.65e-3,2.8e12],[1.7e-3,1.3e12],[1.72e-3,5.5e12],[1.75e-3,2.2e12],[1.8e-3,3.6e12],[1.82e-3,1.0e12],
  [1.85e-3,1.8e12],[1.9e-3,6.5e12],[1.92e-3,2.6e12],[1.95e-3,1.4e12],[2.0e-3,4.2e12],[2.05e-3,2.0e12],
  [2.1e-3,8.0e12],[2.15e-3,3.0e12],[2.2e-3,1.6e12],[2.25e-3,5.2e12],[2.3e-3,2.4e12],[2.35e-3,9.5e12],
  [2.4e-3,3.6e12],[2.5e-3,1.2e13],[2.55e-3,2.8e12],[2.6e-3,6.5e12],[2.7e-3,1.5e13],[2.75e-3,4.4e12],
  [2.8e-3,9.0e12],[2.9e-3,2.0e13],[2.95e-3,5.5e12],[3.0e-3,1.1e13],[3.1e-3,3.2e12],[3.15e-3,1.6e13],
  [3.2e-3,7.5e12],[3.3e-3,2.4e13],[3.35e-3,1.0e13],[3.45e-3,4.6e12],[3.5e-3,1.9e13],[3.6e-3,1.3e13],
  [3.7e-3,6.0e12],[3.75e-3,2.2e13],[3.9e-3,1.5e13],[4.0e-3,3.0e13],[4.1e-3,9.0e12],[4.3e-3,2.0e13],
  [4.5e-3,1.2e13],[4.8e-3,2.6e13],[4.6e-3,5.0e12],[3.4e-3,3.0e12],[2.65e-3,2.0e12],[2.45e-3,1.0e12],
  [2.2e-3,6.0e11],[1.9e-3,5.0e11],
  [1.08e-3,1.6e12],[1.18e-3,1.1e12],[1.28e-3,2.4e12],[1.38e-3,1.0e12],[1.48e-3,2.6e12],[1.58e-3,1.3e12],
  [1.68e-3,3.6e12],[1.78e-3,1.6e12],[1.88e-3,3.0e12],[1.98e-3,2.0e12],[2.08e-3,1.2e12],[2.18e-3,3.8e12],
  [2.28e-3,1.4e12],[2.38e-3,2.2e12],[2.48e-3,4.8e12],[2.58e-3,8.5e12],[2.68e-3,3.4e12],[2.78e-3,1.2e13],
  [2.88e-3,7.0e12],[2.98e-3,1.5e13],[3.08e-3,9.0e12],[3.18e-3,2.0e13],[3.28e-3,1.3e13],[3.38e-3,6.5e12],
  [3.48e-3,2.8e13],[3.58e-3,8.5e12],[3.68e-3,1.7e13],[3.82e-3,1.1e13],[3.95e-3,2.4e13],[4.2e-3,1.4e13],
  [4.4e-3,2.8e13],[3.25e-3,4.2e12],[3.55e-3,5.5e12],[2.9e-3,4.0e12]
];
const scdOrangeOrig = [
  [1.45e-2,4.5e14],[1.5e-2,4.0e14],[1.55e-2,5.0e14],[1.4e-2,3.8e14],
  [1.2e-2,2.6e14],[1.25e-2,3.2e14],[1.3e-2,2.2e14],[1.35e-2,3.5e14],[1.4e-2,2.8e14],[1.45e-2,3.3e14],
  [1.5e-2,2.4e14],[1.55e-2,3.0e14],[1.58e-2,3.6e14],[1.28e-2,3.8e14],[1.38e-2,2.0e14],[1.48e-2,2.9e14],
  [1.52e-2,3.7e14],
  [1.02e-2,1.5e14],[1.05e-2,1.1e14],[1.08e-2,1.8e14],[1.1e-2,1.3e14],[1.12e-2,1.6e14],[1.15e-2,9.5e13],
  [1.17e-2,1.9e14],[1.2e-2,1.2e14],[1.22e-2,1.7e14],[1.25e-2,1.0e14],[1.27e-2,1.45e14],[1.3e-2,1.9e14],
  [1.32e-2,1.15e14],[1.35e-2,1.6e14],[1.37e-2,1.25e14],[1.4e-2,1.8e14],[1.42e-2,1.05e14],[1.45e-2,1.5e14],
  [1.48e-2,1.2e14],[1.5e-2,1.7e14],[1.53e-2,1.35e14],[1.56e-2,1.9e14],[1.18e-2,2.1e14],[1.33e-2,2.2e14],
  [1.43e-2,2.4e14],
  [1.05e-2,6.5e13],[1.1e-2,4.5e13],[1.13e-2,7.5e13],[1.16e-2,5.5e13],[1.18e-2,3.3e13],[1.2e-2,8.0e13],
  [1.22e-2,4.0e13],[1.24e-2,6.0e13],[1.26e-2,3.0e13],[1.28e-2,7.0e13],[1.3e-2,5.0e13],[1.32e-2,3.6e13],
  [1.34e-2,6.5e13],[1.36e-2,8.5e13],[1.15e-2,2.8e13],[1.25e-2,9.0e13],[1.3e-2,2.6e13],
  [1.12e-2,1.6e13],[1.15e-2,2.2e13],[1.17e-2,1.2e13],[1.19e-2,1.9e13],[1.21e-2,1.0e13],[1.23e-2,1.5e13],
  [1.25e-2,2.4e13],[1.27e-2,1.1e13],[1.29e-2,1.8e13],[1.31e-2,1.3e13],[1.2e-2,8.0e12],[1.24e-2,2.0e13],
  [1.18e-2,6.5e12],[1.22e-2,4.5e12],[1.2e-2,3.0e12],[1.25e-2,5.5e12],[1.23e-2,2.0e12],[1.27e-2,3.5e12],
  [1.19e-2,1.4e12],[1.24e-2,1.0e12],[1.28e-2,7.5e12],[1.21e-2,5.8e12],
  [1.16e-2,4.5e11],[1.2e-2,3.0e11],[1.26e-2,6.5e11],[1.22e-2,2.0e11],
  [1.03e-2,1.3e14],[1.07e-2,1.6e14],[1.11e-2,1.05e14],[1.14e-2,1.4e14],[1.19e-2,1.6e14],[1.21e-2,2.0e14],
  [1.23e-2,1.3e14],[1.26e-2,2.4e14],[1.29e-2,1.6e14],[1.31e-2,2.8e14],[1.34e-2,1.9e14],[1.36e-2,2.6e14],
  [1.39e-2,1.5e14],[1.41e-2,3.2e14],[1.44e-2,1.95e14],[1.46e-2,2.7e14],[1.49e-2,3.4e14],[1.51e-2,2.1e14],
  [1.54e-2,2.6e14],[1.57e-2,2.2e14],[1.56e-2,4.2e14],[1.47e-2,3.9e14],[1.12e-2,6.0e13],[1.17e-2,8.5e13],
  [1.21e-2,5.2e13],[1.27e-2,8.8e13],[1.32e-2,7.5e13],[1.35e-2,4.8e13],[1.19e-2,4.2e13],[1.23e-2,7.0e13],
  [1.27e-2,4.6e13],[1.14e-2,3.6e13],[1.22e-2,3.0e13],[1.26e-2,2.0e13],[1.18e-2,2.5e13],[1.28e-2,2.9e13],
  [1.33e-2,9.5e13],[1.09e-2,8.5e13]
];
const scdGreenOrig = [
  [1.36e-2,6.0e13],[1.4e-2,7.5e13],[1.45e-2,5.0e13],[1.5e-2,7.0e13],[1.55e-2,6.5e13],[1.6e-2,7.5e13],
  [1.38e-2,4.0e13],[1.42e-2,3.2e13],[1.47e-2,4.5e13],[1.52e-2,3.8e13],[1.57e-2,5.5e13],[1.35e-2,2.4e13],
  [1.4e-2,2.0e13],[1.44e-2,2.8e13],[1.49e-2,2.2e13],[1.53e-2,3.0e13],[1.37e-2,1.5e13],[1.42e-2,1.2e13],
  [1.46e-2,1.7e13],[1.5e-2,1.4e13],[1.36e-2,9.5e12],[1.4e-2,7.5e12],[1.44e-2,1.0e13],[1.33e-2,6.0e12],
  [1.38e-2,4.5e12],[1.35e-2,3.0e12],[1.42e-2,5.5e12],[1.3e-2,2.2e12],
  [9.2e-3,3.5e13],[9.6e-3,2.8e13],[1.0e-2,3.2e13],[1.05e-2,2.5e13],[9.4e-3,2.0e13],[9.8e-3,1.7e13],
  [1.02e-2,2.2e13],[1.08e-2,1.9e13],[9.6e-3,1.2e13],[1.0e-2,1.4e13],[1.05e-2,1.0e13],[1.1e-2,1.3e13],
  [9.8e-3,8.0e12],[1.03e-2,6.0e12],[1.08e-2,7.5e12],[1.12e-2,5.0e12],[1.0e-2,4.2e12],[1.06e-2,3.5e12],
  [1.15e-2,2.8e12],[1.1e-2,2.0e12],[1.18e-2,1.4e12],[1.25e-2,1.8e12],[1.3e-2,1.3e12],[1.28e-2,9.0e11],
  [1.23e-2,1.1e11],[1.22e-2,7.0e10],[1.48e-2,4.3e11],
  [1.37e-2,7.0e13],[1.43e-2,6.0e13],[1.48e-2,8.0e13],[1.53e-2,5.0e13],[1.58e-2,6.5e13],[1.41e-2,4.6e13],
  [1.46e-2,3.6e13],[1.51e-2,2.6e13],[1.39e-2,2.6e13],[1.43e-2,1.8e13],[1.48e-2,1.2e13],[1.4e-2,1.1e13],
  [9.4e-3,2.6e13],[9.9e-3,2.4e13],[1.02e-2,1.6e13],[9.7e-3,1.0e13],[1.04e-2,8.5e12],[1.01e-2,5.0e12],
  [1.07e-2,5.5e12],[1.12e-2,3.0e12]
];
const detectionLimit = 7.7e14;
const splitShift = 0.007;
const shiftSpan = [1.0e-4, 3.9e-2];      // full shift axis
const residueSpan = [1.0e-4, 1.0e-1];    // full residue axis
const scdSpan = [3.0e10, 1.0e16];        // full SCD axis

// table printed above the panels
const SUB = s => '<sub><span style="font-size:14px">' + s + '</span></sub>';
const tableRows = [
  ['Non-linear', '14.3 ± 1.0 / 0.0 ± 1.0', '0'],
  ['Linear', '–', '1'],
  ['Linear including <i>A</i>' + SUB('Shift'), '14.3 ± 1.0 / 0.0 ± 1.0', '0'],
  ['Linear including <i>B</i>' + SUB('Shift'), '13.8 ± 1.0 / 0.0 ± 1.0', '0']
];

// ---------------------------------------------------------------------------
const W = 487, H = 603;
const fx = v => v / W;          // pixel -> paper x
const fy = v => 1 - v / H;      // pixel -> paper y

const PURPLE = '#a020f0', RED = '#c00000', OLIVE = '#9d9a1e',
      ORANGE = '#e08a00', GREEN = '#72b01c', LINEPURPLE = '#b65cf3';
const SANS = 'Liberation Sans, Arial, Helvetica, sans-serif';
const SERIF = 'Liberation Serif, Times New Roman, serif';
const INK = '#1e1e1e';

// panel boxes in pixels: [left, right, top, bottom], and log10 axis ranges
const boxA = [108, 477.5, 186.7, 292.7];
const boxB = [108, 477.5, 345.3, 556];
const shiftRange = [-4, Math.log10(0.039)];
const residueRange = [-3.94, -1];
const scdRange = [10.5, 16];

function cloud(pairs, xa, ya, color, size) {
  return {
    type: 'scatter', mode: 'markers', xaxis: xa, yaxis: ya,
    x: pairs.map(p => p[0]), y: pairs.map(p => p[1]),
    marker: { color: color, size: size, line: { width: 0 } },
    hoverinfo: 'skip', showlegend: false
  };
}
function guide(x, y, xa, ya, color, dash) {
  return {
    type: 'scatter', mode: 'lines', xaxis: xa, yaxis: ya, x: x, y: y,
    line: { color: color, width: 1.2, dash: dash }, hoverinfo: 'skip', showlegend: false
  };
}

// panel box and inside tick marks, drawn as line traces on the panel's own axes
const shiftMajor = [1e-4, 1e-3, 1e-2];
const shiftMinor = [];
shiftMajor.forEach(d => { for (let m = 2; m <= 9; m++) if (m * d < 0.039) shiftMinor.push(m * d); });
const residueMajor = [1e-3, 1e-2];
const scdMajor = [1e11, 1e12, 1e13, 1e14, 1e15];

function panelBox(xa, ya, xr, yr) {
  const x0 = Math.pow(10, xr[0]), x1 = Math.pow(10, xr[1]);
  const y0 = Math.pow(10, yr[0]), y1 = Math.pow(10, yr[1]);
  return {
    type: 'scatter', mode: 'lines', xaxis: xa, yaxis: ya,
    x: [x0, x1, x1, x0, x0], y: [y0, y0, y1, y1, y0],
    line: { color: INK, width: 2.6 }, hoverinfo: 'skip', showlegend: false
  };
}
function panelTicks(xa, ya, xr, yr, box, yTicks) {
  const kx = (box[1] - box[0]) / (xr[1] - xr[0]);   // px per decade
  const ky = (box[3] - box[2]) / (yr[1] - yr[0]);
  const xs = [], ys = [];
  const seg = (ax, ay, bx, by) => { xs.push(ax, bx, null); ys.push(ay, by, null); };
  const xt = (v, len) => {
    seg(v, Math.pow(10, yr[0]), v, Math.pow(10, yr[0] + len / ky));
    seg(v, Math.pow(10, yr[1]), v, Math.pow(10, yr[1] - len / ky));
  };
  shiftMajor.forEach(v => xt(v, 5));
  shiftMinor.forEach(v => xt(v, 3));
  yTicks.forEach(v => {
    seg(Math.pow(10, xr[0]), v, Math.pow(10, xr[0] + 5 / kx), v);
    seg(Math.pow(10, xr[1]), v, Math.pow(10, xr[1] - 5 / kx), v);
  });
  return {
    type: 'scatter', mode: 'lines', xaxis: xa, yaxis: ya, x: xs, y: ys, connectgaps: false,
    line: { color: INK, width: 1 }, hoverinfo: 'skip', showlegend: false
  };
}

const traces = [
  guide([splitShift, splitShift], residueSpan, 'x', 'y', '#8a8a8a', '9px,5px'),
  cloud(resOlivePre, 'x', 'y', OLIVE, 4.5),
  cloud(resOrangePre, 'x', 'y', ORANGE, 4.5),
  cloud(resRedPre, 'x', 'y', RED, 4.5),
  cloud(resPurplePre, 'x', 'y', PURPLE, 3.8),
  cloud(resOliveOrig, 'x', 'y', OLIVE, 4.5),
  cloud(resOrangeOrig, 'x', 'y', ORANGE, 4.5),
  cloud(resRedOrig, 'x', 'y', RED, 5),
  cloud(resPurpleOrig, 'x', 'y', PURPLE, 4),
  { type: 'scatter', mode: 'lines', xaxis: 'x', yaxis: 'y',
    x: resLineShift, y: resLineValue,
    line: { color: LINEPURPLE, width: 1.5 }, hoverinfo: 'skip', showlegend: false },
  panelTicks('x', 'y', shiftRange, residueRange, boxA, residueMajor),
  panelBox('x', 'y', shiftRange, residueRange),

  guide([splitShift, splitShift], scdSpan, 'x2', 'y2', '#8a8a8a', '9px,5px'),
  guide(shiftSpan, [detectionLimit, detectionLimit], 'x2', 'y2', '#c8c8c8', 'solid'),
  cloud(scdOrangePre, 'x2', 'y2', ORANGE, 3.4),
  cloud(scdGreenPre, 'x2', 'y2', GREEN, 3.2),
  cloud(scdOrangeOrig, 'x2', 'y2', ORANGE, 3.4),
  cloud(scdGreenOrig, 'x2', 'y2', GREEN, 3.2),
  { type: 'scatter', mode: 'lines+markers', xaxis: 'x2', yaxis: 'y2',
    x: scdPurplePre.map(p => p[0]), y: scdPurplePre.map(p => p[1]),
    line: { color: PURPLE, width: 2.6 }, marker: { color: PURPLE, size: 3 },
    hoverinfo: 'skip', showlegend: false },
  cloud(scdPurpleStray, 'x2', 'y2', PURPLE, 3.5),
  cloud(scdPurpleOrig, 'x2', 'y2', PURPLE, 3.4),
  panelTicks('x2', 'y2', shiftRange, scdRange, boxB, scdMajor),
  panelBox('x2', 'y2', shiftRange, scdRange)
];

function xAxis(anchor) {
  return {
    type: 'log', range: shiftRange, domain: [fx(boxA[0]), fx(boxA[1])], anchor: anchor,
    dtick: 1, exponentformat: 'none', ticks: '', showline: false,
    showgrid: false, zeroline: false, ticklabelstandoff: 6,
    tickfont: { family: SANS, size: 14.5, color: INK }
  };
}
function yAxis(anchor, range, box) {
  return {
    type: 'log', range: range, domain: [fy(box[3]), fy(box[2])], anchor: anchor,
    dtick: 1, exponentformat: 'power', showexponent: 'all', ticks: '', showline: false,
    showgrid: false, zeroline: false, ticklabelstandoff: 7,
    tickfont: { family: SANS, size: 16, color: INK }
  };
}

const annotations = [];
function label(text, x, y, opts) {
  annotations.push(Object.assign({
    text: text, xref: 'paper', yref: 'paper', x: fx(x), y: fy(y),
    showarrow: false, xanchor: 'center', yanchor: 'middle',
    font: { family: SANS, size: 14.5, color: INK }
  }, opts || {}));
}
function arrow(hx, tx, y) {
  annotations.push({
    text: '', xref: 'paper', yref: 'paper', axref: 'paper', ayref: 'paper',
    x: fx(hx), y: fy(y), ax: fx(tx), ay: fy(y),
    showarrow: true, arrowhead: 2, arrowsize: 1.7, arrowwidth: 1.3, arrowcolor: INK,
    standoff: 0, startstandoff: 0
  });
}

// table text
const rowY = [22.7, 44.5, 66.7, 88.5];
tableRows.forEach((r, i) => {
  const f = { family: SERIF, size: 18, color: INK };
  label(r[0], 111, rowY[i], { xanchor: 'left', font: f });
  label(r[1], 377, rowY[i], { xanchor: 'center', font: f });
  label(r[2], 479, rowY[i], { xanchor: 'left', font: f });
});

// region arrows above panel a
arrow(108, 202, 170);
arrow(370, 296, 170);
arrow(377, 396, 170);
arrow(478, 452, 170);
label('pre−shifted', 244, 166, { font: { family: SANS, size: 14.5, color: '#333' } });
label('original', 423, 166, { font: { family: SANS, size: 14.5, color: '#333' } });

// panel letters and axis titles
label('a)', 46, 183, { font: { family: SANS, size: 27, color: '#111' } });
label('b)', 46, 347, { font: { family: SANS, size: 27, color: '#111' } });
label('Residue', 42, 236, { textangle: -90, font: { family: SANS, size: 20, color: INK } });
label('NO<sub>2</sub> Δ SCD', 16, 461, { textangle: -90, font: { family: SANS, size: 20, color: INK } });
label('[molec/cm<sup>2</sup>]', 43, 453, { textangle: -90, font: { family: SANS, size: 20, color: INK } });
label('absolute Shift [nm]', 293, 590, { font: { family: SANS, size: 14.5, color: INK } });
label('Detection Limit', 130, 379, { xanchor: 'left', font: { family: SANS, size: 12, color: '#c4c4c4' } });

const shapes = [
  { type: 'line', xref: 'paper', yref: 'paper', x0: fx(100), x1: 1, y0: fy(7), y1: fy(7),
    line: { color: '#333', width: 1.4 } },
  { type: 'line', xref: 'paper', yref: 'paper', x0: fx(100), x1: 1, y0: fy(106.7), y1: fy(106.7),
    line: { color: '#333', width: 1.4 } }
];

const layout = {
  width: W, height: H,
  margin: { l: 0, r: 0, t: 0, b: 0 },
  paper_bgcolor: '#fff', plot_bgcolor: 'rgba(0,0,0,0)',
  showlegend: false,
  xaxis: xAxis('y'),
  yaxis: yAxis('x', residueRange, boxA),
  xaxis2: xAxis('y2'),
  yaxis2: yAxis('x2', scdRange, boxB),
  shapes: shapes,
  annotations: annotations
};

Plotly.newPlot('chart', traces, layout, { displayModeBar: false });
</script>
</body>
</html>
